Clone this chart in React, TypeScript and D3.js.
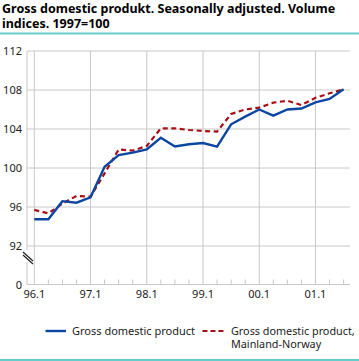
import React from "react";
import * as d3 from "d3";

const quarters = ["96.1","96.2","96.3","96.4","97.1","97.2","97.3","97.4","98.1","98.2","98.3","98.4","99.1","99.2","99.3","99.4","00.1","00.2","00.3","00.4","01.1","01.2","01.3"];
const gdp = [94.74,94.74,96.6,96.44,97.0,100.13,101.33,101.57,101.9,103.1,102.2,102.43,102.56,102.19,104.48,105.27,106.0,105.37,106.0,106.1,106.73,107.08,108.07];
const mainland = [95.7,95.35,96.35,97.13,97.06,99.45,101.9,101.78,102.26,104.07,104.07,103.9,103.8,103.73,105.54,106.0,106.19,106.7,106.9,106.46,107.2,107.66,108.07];
const yTicks = [92, 96, 100, 104, 108, 112];
const xLabels = ["96.1","97.1","98.1","99.1","00.1","01.1"];
const titleLines = ["Gross domestic produkt. Seasonally adjusted. Volume", "indices. 1997=100"];
const legendItems = ["Gross domestic product", "Gross domestic product,|Mainland-Norway"];

export default function App() {
  const W = 359, H = 361;
  const left = 27, right = 350, axisY = 284.5;
  const x = d3.scaleLinear().domain([0, quarters.length - 1]).range([34.3, 343.6]);
  const y = d3.scaleLinear().domain([92, 112]).range([246, 51]);
  const line = d3.line<number>().x((_, i) => x(i)).y(d => y(d));
  const grid = "#c8c8c8";
  const font = "'Noto Sans', 'Open Sans', sans-serif";
  return (
    <svg width={W} height={H} style={{ position: "absolute", left: 0, top: 0 }} fontFamily={font}>
      <rect width={W} height={H} fill="#fff" />
      {titleLines.map((t, i) => (
        <text key={i} x={2} y={13 + i * 15} fontSize={12.5} fontWeight="bold" fill="#000">{t}</text>
      ))}
      <line x1={0} x2={W} y1={33.5} y2={33.5} stroke="#66cccc" strokeWidth={2} />
      {yTicks.map(t => (
        <g key={t}>
          <line x1={left} x2={right} y1={y(t)} y2={y(t)} stroke={grid} strokeWidth={1} />
          <text x={22} y={y(t) + 4} fontSize={11} textAnchor="end" fill="#222">{t}</text>
        </g>
      ))}
      <text x={22} y={axisY + 4} fontSize={11} textAnchor="end" fill="#222">0</text>
      {quarters.map((q, i) => xLabels.includes(q) ? (
        <g key={q}>
          <line x1={x(i)} x2={x(i)} y1={y(112)} y2={axisY} stroke={grid} strokeWidth={1} />
          <text x={x(i)} y={axisY + 13} fontSize={11} textAnchor="middle" fill="#222">{q}</text>
        </g>
      ) : (
        <line key={q} x1={x(i)} x2={x(i)} y1={axisY - 5} y2={axisY} stroke={grid} strokeWidth={1} />
      ))}
      <line x1={left} x2={left} y1={y(112)} y2={250} stroke={grid} />
      <line x1={left} x2={left} y1={262} y2={axisY} stroke={grid} />
      <line x1={left} x2={right} y1={axisY} y2={axisY} stroke={grid} />
      <line x1={23} x2={33} y1={252} y2={261} stroke="#222" strokeWidth={1.2} />
      <line x1={23} x2={33} y1={255} y2={264} stroke="#222" strokeWidth={1.2} />
      <path d={line(mainland) || ""} fill="none" stroke="#a50f15" strokeWidth={2.2} strokeDasharray="5,3.5" />
      <path d={line(gdp) || ""} fill="none" stroke="#0b47a1" strokeWidth={2.4} />
      <line x1={45.5} x2={66} y1={331} y2={331} stroke="#0b47a1" strokeWidth={2.4} />
      <text x={72} y={334.5} fontSize={11} fill="#222">{legendItems[0]}</text>
      <line x1={202.5} x2={224} y1={331} y2={331} stroke="#a50f15" strokeWidth={2.2} strokeDasharray="5,3" />
      {legendItems[1].split("|").map((t, i) => (
        <text key={i} x={231} y={334.5 + i * 13} fontSize={10.8} fill="#222">{t}</text>
      ))}
      <line x1={0} x2={W} y1={360} y2={360} stroke="#66cccc" strokeWidth={2} />
    </svg>
  );
}
